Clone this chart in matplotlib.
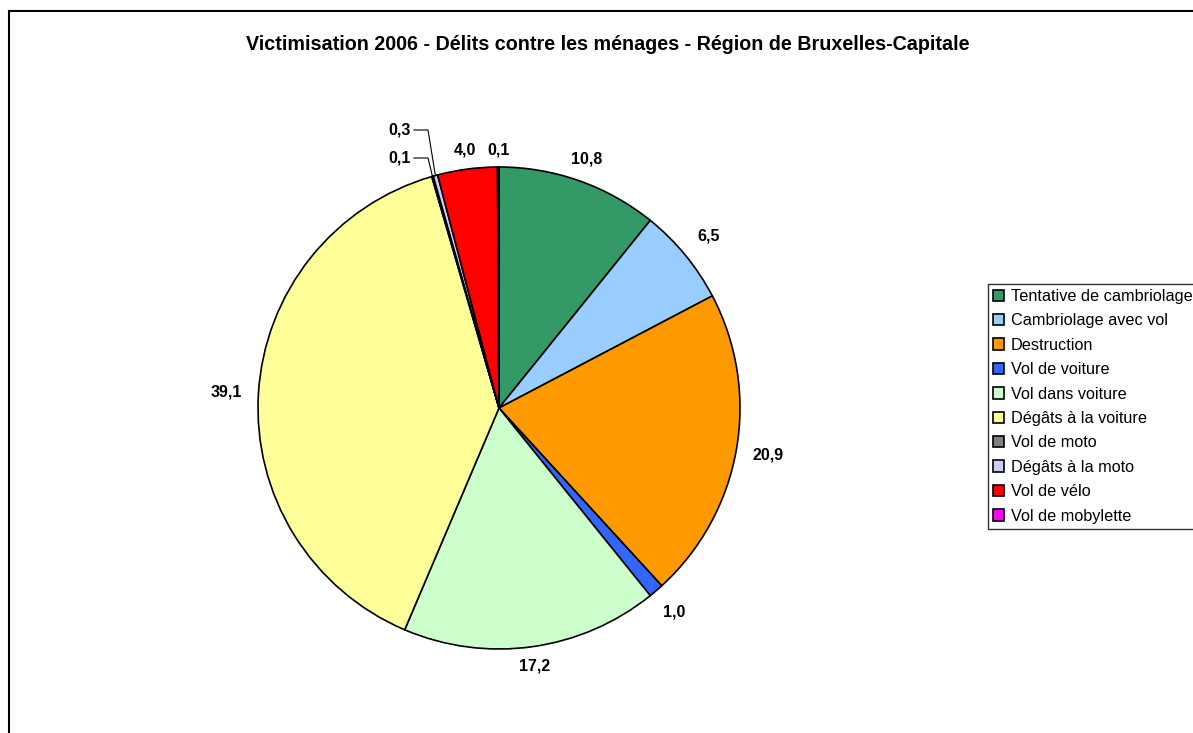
import numpy as np
import matplotlib
matplotlib.use("Agg")
import matplotlib.pyplot as plt
from matplotlib.lines import Line2D

plt.rcParams['font.family'] = ['Liberation Sans', 'DejaVu Sans']

title = "Victimisation 2006 - Délits contre les ménages - Région de Bruxelles-Capitale"
categories = ["Tentative de cambriolage", "Cambriolage avec vol", "Destruction",
              "Vol de voiture", "Vol dans voiture", "Dégâts à la voiture",
              "Vol de moto", "Dégâts à la moto", "Vol de vélo", "Vol de mobylette"]
values = [10.8, 6.5, 20.9, 1.0, 17.2, 39.1, 0.1, 0.3, 4.0, 0.1]
colors = ["#339966", "#99CCFF", "#FF9900", "#3366FF", "#CCFFCC",
          "#FFFF99", "#808080", "#CCCCFF", "#FF0000", "#FF00FF"]

W, H = 1193, 733
fig = plt.figure(figsize=(W / 100, H / 100), dpi=100)
ax = fig.add_axes([0, 0, 1, 1])

# pie in pixel-like coordinates (y measured from bottom)
cx, cy, r = 499, H - 408, 241
wedges, _ = ax.pie(values, colors=colors, startangle=90, counterclock=False,
                   center=(cx, cy), radius=r,
                   wedgeprops=dict(edgecolor="black", linewidth=1.2))
ax.set_xlim(0, W)
ax.set_ylim(0, H)
ax.set_aspect("equal")
ax.axis("off")

# value labels
total = sum(values)
cum = np.cumsum([0] + values)
leader = {6: (400, H - 158), 7: (400, H - 130)}
for i, v in enumerate(values):
    mid = (cum[i] + v / 2) / total * 2 * np.pi
    dx, dy = np.sin(mid), np.cos(mid)
    lab = f"{v:.1f}".replace(".", ",")
    if i in leader:
        tx, ty = leader[i]
        ex, ey = cx + r * dx, cy + r * dy
        ax.plot([tx + 14, 428, ex], [ty, ty, ey], color="black", lw=0.8)
        ax.text(tx, ty, lab, ha="center", va="center", fontsize=11.5, fontweight="bold")
        continue
    d = r + 14 + 18 * abs(dx) + 3 * abs(dy)
    ax.text(cx + d * dx, cy + d * dy, lab, ha="center", va="center",
            fontsize=11.5, fontweight="bold")

fig.text(608 / W, 1 - 45 / H, title, ha="center", va="center",
         fontsize=14.2, fontweight="bold")

leg = fig.legend(wedges, categories, loc="upper left",
                 bbox_to_anchor=(988 / W, 1 - 284 / H), borderaxespad=0,
                 fontsize=11.7, frameon=True, fancybox=False,
                 handlelength=0.7, handleheight=0.7, handletextpad=0.4,
                 labelspacing=0.58, borderpad=0.3)
leg.get_frame().set_edgecolor("black")
leg.get_frame().set_linewidth(1.0)

# chart area border (cut off at right and bottom)
fig.add_artist(Line2D([9 / W, 9 / W], [0, 1 - 11 / H], color="black", lw=1.5))
fig.add_artist(Line2D([9 / W, 1], [1 - 11 / H, 1 - 11 / H], color="black", lw=1.5))

fig.savefig("out.png", dpi=100)
